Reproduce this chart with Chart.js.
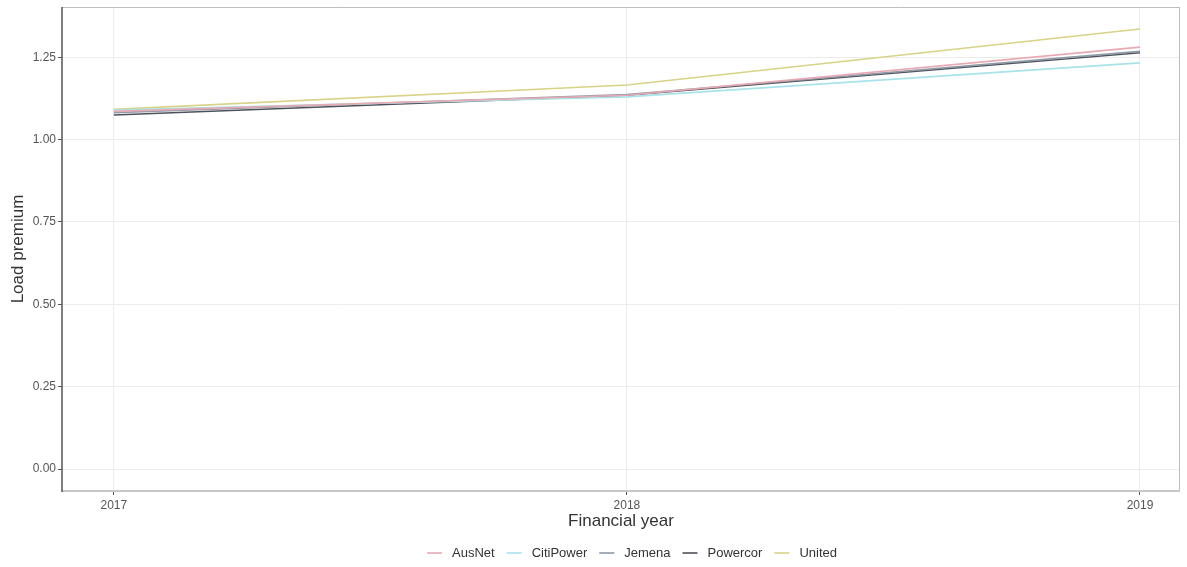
<!DOCTYPE html>
<html>
<head>
<meta charset="utf-8">
<script src="https://cdn.jsdelivr.net/npm/chart.js@4/dist/chart.umd.min.js"></script>
<style>
html,body{margin:0;padding:0;background:#fff;}
#wrap{position:relative;width:1187px;height:567px;}
</style>
</head>
<body>
<div id="wrap"><canvas id="c" width="1187" height="567"></canvas></div>
<script>
const years = [2017, 2018, 2019];
const seriesNames = ["AusNet", "CitiPower", "Jemena", "Powercor", "United"];
const ausnet    = [1.086, 1.135, 1.281];
const citipower = [1.090, 1.130, 1.233];
const jemena    = [1.082, 1.137, 1.268];
const powercor  = [1.075, 1.135, 1.264];
const united    = [1.092, 1.166, 1.336];
const yTicks = [0.00, 0.25, 0.50, 0.75, 1.00, 1.25];
const seriesColors = ["#e8a9b3", "#a9e3ea", "#8f9aa6", "#4d525a", "#d8d387"];

const FONT = 'Liberation Sans, Arial, sans-serif';
const allValues = [ausnet, citipower, jemena, powercor, united];
const datasets = seriesNames.map((n, i) => ({
  label: n,
  data: years.map((y, j) => ({x: y, y: allValues[i][j]})),
  borderColor: seriesColors[i],
  backgroundColor: seriesColors[i],
  borderWidth: 1.6,
  pointRadius: 0,
  tension: 0,
  fill: false
}));

const yMaxData = 1.336, yMinData = 0;
const yr = yMaxData - yMinData;
const xr = years[years.length - 1] - years[0];

const frame = {
  id: 'frame',
  afterDraw(chart) {
    const {ctx, chartArea: a} = chart;
    ctx.save();
    ctx.strokeStyle = '#bdbdbd';
    ctx.lineWidth = 1;
    ctx.beginPath();
    ctx.moveTo(a.left, a.top + 0.5); ctx.lineTo(a.right, a.top + 0.5);
    ctx.moveTo(a.right - 0.5, a.top); ctx.lineTo(a.right - 0.5, a.bottom);
    ctx.stroke();
    ctx.strokeStyle = '#c8c8c8';
    ctx.lineWidth = 2;
    ctx.beginPath();
    ctx.moveTo(a.left, a.bottom); ctx.lineTo(a.right, a.bottom);
    ctx.stroke();
    ctx.strokeStyle = '#555';
    ctx.lineWidth = 1.5;
    ctx.beginPath();
    ctx.moveTo(a.left, a.top); ctx.lineTo(a.left, a.bottom + 1);
    ctx.stroke();

    // legend
    ctx.font = '13px ' + FONT;
    const keyW = 15, keyGap = 10, itemGap = 12;
    const items = chart.data.datasets.map(d => ({label: d.label, color: d.borderColor, w: ctx.measureText(d.label).width}));
    const total = items.reduce((s, it) => s + keyW + keyGap + it.w, 0) + itemGap * (items.length - 1);
    let x = 632 - total / 2;
    const y = 553;
    ctx.textBaseline = 'middle';
    ctx.textAlign = 'left';
    items.forEach(it => {
      ctx.strokeStyle = it.color;
      ctx.lineWidth = 1.6;
      ctx.beginPath();
      ctx.moveTo(x, y); ctx.lineTo(x + keyW, y);
      ctx.stroke();
      x += keyW + keyGap;
      ctx.fillStyle = '#333';
      ctx.fillText(it.label, x, y + 0.5);
      x += it.w + itemGap;
    });
    ctx.restore();
  }
};

new Chart(document.getElementById('c'), {
  type: 'line',
  data: {datasets},
  options: {
    responsive: false,
    animation: false,
    devicePixelRatio: 1,
    layout: {padding: {left: 0, right: 7, top: 7, bottom: 33}},
    plugins: {
      legend: {display: false},
      tooltip: {enabled: false}
    },
    scales: {
      x: {
        type: 'linear',
        min: years[0] - 0.101 * xr / 2,
        max: years[years.length - 1] + 0.078 * xr / 2,
        afterBuildTicks: s => { s.ticks = years.map(v => ({value: v})); },
        afterFit: s => { s.height = 43; s.paddingLeft = 0; s.paddingRight = 0; },
        ticks: {
          color: '#555',
          font: {family: FONT, size: 12},
          padding: 3,
          maxRotation: 0,
          callback: v => String(v)
        },
        grid: {color: '#ececec', lineWidth: 1, tickLength: 4, tickColor: '#555', drawTicks: true},
        border: {display: false},
        title: {display: true, text: 'Financial year', color: '#333',
          font: {family: FONT, size: 17}, padding: {top: 0, bottom: 2}}
      },
      y: {
        min: yMinData - 0.05 * yr,
        max: yMaxData + 0.05 * yr,
        afterBuildTicks: s => { s.ticks = yTicks.map(v => ({value: v})); },
        afterFit: s => { s.width = 62; s.paddingTop = 0; s.paddingBottom = 0; },
        ticks: {
          color: '#555',
          font: {family: FONT, size: 12},
          padding: 2,
          callback: v => v.toFixed(2)
        },
        grid: {color: '#ececec', lineWidth: 1, tickLength: 4, tickColor: '#555'},
        border: {display: false},
        title: {display: true, text: 'Load premium', color: '#333',
          font: {family: FONT, size: 17}, padding: {top: 8, bottom: 0}}
      }
    }
  },
  plugins: [frame]
});
</script>
</body>
</html>
